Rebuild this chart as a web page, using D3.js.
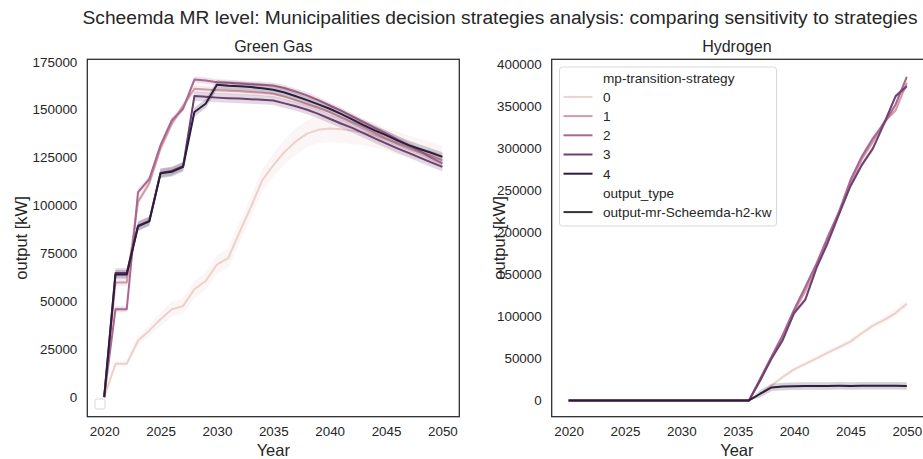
<!DOCTYPE html>
<html><head><meta charset="utf-8">
<script src="https://cdn.jsdelivr.net/npm/d3@7"></script>
<style>
body{margin:0;background:#fff}
svg{display:block}
text{font-family:"Liberation Sans",Arial,sans-serif;fill:#262626}
</style>
</head><body>
<svg id="c" width="923" height="459"></svg>
<script>
// ---------------- DATA ----------------
const years = [2020,2021,2022,2023,2024,2025,2026,2027,2028,2029,2030,2031,2032,2033,2034,2035,2036,2037,2038,2039,2040,2041,2042,2043,2044,2045,2046,2047,2048,2049,2050];
const strategies = [0,1,2,3,4];
const xTicks = [2020,2025,2030,2035,2040,2045,2050];
const ggTicks = [0,25000,50000,75000,100000,125000,150000,175000];
const h2Ticks = [0,50000,100000,150000,200000,250000,300000,350000,400000];

// Green Gas
const gg0 = [0,17400,17400,29500,34700,40700,45900,47600,56300,60600,69200,72500,86000,99000,113000,121000,128000,133500,137500,139500,140200,139800,139000,138000,136500,134500,132800,131000,129500,128000,126000];
const gg1 = [0,59800,59800,102000,111600,129800,142700,152000,160900,160500,160200,159900,159600,159200,158800,158300,156800,155000,153000,151000,148800,146000,143500,141000,138000,135000,132500,130500,128000,126000,123700];
const gg2 = [0,45900,45900,107000,113800,131500,144500,150500,165700,165200,164300,164000,163700,163300,163000,162600,161300,159500,157500,155000,152200,149500,146500,143500,140500,137600,134500,131500,128500,125000,122000];
const gg3 = [0,64800,64800,89500,92000,117000,118000,120500,157100,156700,156300,156000,155800,155500,155200,154800,153300,151800,150000,147800,145300,142800,140500,137800,135000,132400,129800,127500,125000,122500,120200];
const gg4 = [0,64000,64000,89100,91700,116800,117600,120200,148800,153100,163000,162500,162200,161800,161200,160400,159000,157000,155000,152800,150500,147800,145000,142000,139200,136700,134000,131500,129500,127500,125400];
// half-width of confidence bands
const gg0Band = [0,1500,1500,2500,3000,3500,4000,4000,4500,4500,5000,5000,5500,5500,6000,6000,6500,7000,7000,7000,7000,7000,7000,6500,6500,6000,6000,5500,5500,5000,5000];
const ggBand = [0,1800,1600,2400,2400];

// Hydrogen
const h20 = [0,0,0,0,0,0,0,0,0,0,0,0,0,0,0,0,0,7500,17900,28000,37000,43500,50000,57000,63500,70000,80000,89000,96000,104000,115000];
const h21 = [0,0,0,0,0,0,0,0,0,0,0,0,0,0,0,0,0,25000,51000,76000,106000,130000,160000,192000,224000,258000,287000,308000,332000,345000,378000];
const h22 = [0,0,0,0,0,0,0,0,0,0,0,0,0,0,0,0,0,26000,52000,78000,108000,135000,163000,195000,225000,262000,290000,312000,330000,352000,385000];
const h23 = [0,0,0,0,0,0,0,0,0,0,0,0,0,0,0,0,0,24000,50000,72000,104000,120000,158000,188000,222000,255000,280000,300000,330000,362000,374000];
const h24 = [0,0,0,0,0,0,0,0,0,0,0,0,0,0,0,0,0,8000,15500,16500,17000,17200,17300,17300,17400,17300,17400,17500,17400,17500,17300];
const h20Band = [0,0,0,0,0,0,0,0,0,0,0,0,0,0,0,0,0,1500,2000,2200,2400,2600,2800,3000,3200,3400,3600,3800,4000,4200,4500];
const h2Band = [0,3000,3000,3000,4500];

const ggSeries = [gg0,gg1,gg2,gg3,gg4];
const h2Series = [h20,h21,h22,h23,h24];

// ---------------- COLORS (seaborn default cubehelix) ----------------
function cubehelix(x){
  const gamma=1, s=0, r=0.4, h=0.8;
  const xg = Math.pow(x,gamma), a = h*xg*(1-xg)/2, phi = 2*Math.PI*(s/3 + r*x);
  const c = (p0,p1)=> Math.max(0,Math.min(1, xg + a*(p0*Math.cos(phi)+p1*Math.sin(phi))));
  return d3.rgb(255*c(-0.14861,1.78277), 255*c(-0.29227,-0.90649), 255*c(1.97294,0)).formatHex();
}
const color = k => cubehelix(0.85 - 0.7*(k/4));

// ---------------- LAYOUT ----------------
const svg = d3.select("#c");
const yTop = 59.3, yBot = 416.7;
const panels = [
  {title:"Green Gas", x0:87.3, x1:459.3, yDom:[-10200,176300], ticks:ggTicks, series:ggSeries,
   band:(k,i)=> k===0 ? gg0Band[i] : (i===0?0:ggBand[k]), ylabX:21},
  {title:"Hydrogen", x0:551.7, x1:923.7, yDom:[-19330,406000], ticks:h2Ticks, series:h2Series,
   band:(k,i)=> k===0 ? h20Band[i] : (h2Series[k][i]===0?0:h2Band[k]), ylabX:499}
];

svg.append("text").attr("x",500).attr("y",24).attr("text-anchor","middle")
  .style("font-size","19.2px").text("Scheemda MR level: Municipalities decision strategies analysis: comparing sensitivity to strategies");

panels.forEach((p,pi)=>{
  const x = d3.scaleLinear().domain([2018.5,2051.5]).range([p.x0,p.x1]);
  const y = d3.scaleLinear().domain(p.yDom).range([yBot,yTop]);
  const g = svg.append("g");

  strategies.forEach(k=>{
    const vals = p.series[k];
    const area = d3.area().x((d,i)=>x(years[i]))
      .y0((d,i)=>y(d - p.band(k,i))).y1((d,i)=>y(d + p.band(k,i)));
    const line = d3.line().x((d,i)=>x(years[i])).y(d=>y(d));
    g.append("path").attr("d",line(vals)).attr("fill","none")
      .attr("stroke",color(k)).attr("stroke-width",2).attr("stroke-linejoin","round");
    g.append("path").attr("d",area(vals)).attr("fill",color(k)).attr("fill-opacity",0.2);
  });

  const xAxis = d3.axisBottom(x).tickValues(xTicks).tickFormat(d3.format("d")).tickSize(0).tickPadding(10);
  const ax = svg.append("g").attr("transform",`translate(0,${yBot})`).call(xAxis);
  const yAxis = d3.axisLeft(y).tickValues(p.ticks).tickFormat(d3.format("d")).tickSize(0).tickPadding(10);
  const ay = svg.append("g").attr("transform",`translate(${p.x0},0)`).call(yAxis);
  [ax,ay].forEach(a=>{ a.select(".domain").remove(); a.selectAll("text").style("font-size","13.4px").attr("fill","#262626").style("font-family","'Liberation Sans',Arial,sans-serif"); });

  svg.append("rect").attr("x",p.x0).attr("y",yTop).attr("width",p.x1-p.x0).attr("height",yBot-yTop)
    .attr("fill","none").attr("stroke","#262626").attr("stroke-width",1.25);

  const cx = (p.x0+Math.min(p.x1,922))/2;
  svg.append("text").attr("x",cx).attr("y",52).attr("text-anchor","middle")
    .style("font-size","16px").text(p.title);
  svg.append("text").attr("x",cx).attr("y",456).attr("text-anchor","middle")
    .style("font-size","16.5px").text("Year");
  svg.append("text").attr("transform",`translate(${p.ylabX},${(yTop+yBot)/2}) rotate(-90)`)
    .attr("text-anchor","middle").attr("dy","0.35em").style("font-size","16.5px").text("output [kW]");
});

// empty legend (left panel)
svg.append("rect").attr("x",95).attr("y",399).attr("width",10).attr("height",10).attr("rx",2)
  .attr("fill","#fff").attr("fill-opacity",0.8).attr("stroke","#d8d8d8").attr("stroke-width",1);

// legend (right panel)
const lg = svg.append("g");
lg.append("rect").attr("x",559.5).attr("y",67).attr("width",217).attr("height",159).attr("rx",3)
  .attr("fill","#fff").attr("fill-opacity",0.8).attr("stroke","#d8d8d8").attr("stroke-width",1);
const rows = [{t:"mp-transition-strategy"}]
  .concat(strategies.map(k=>({t:String(k), c:color(k)})))
  .concat([{t:"output_type"},{t:"output-mr-Scheemda-h2-kw", c:"#333333"}]);
rows.forEach((r,i)=>{
  const yy = 77.7 + i*19.2;
  if(r.c) lg.append("line").attr("x1",563.5).attr("x2",592.5).attr("y1",yy).attr("y2",yy)
      .attr("stroke",r.c).attr("stroke-width",2);
  lg.append("text").attr("x",603).attr("y",yy).attr("dy","0.36em").style("font-size","13.6px").text(r.t);
});
</script>
</body></html>
